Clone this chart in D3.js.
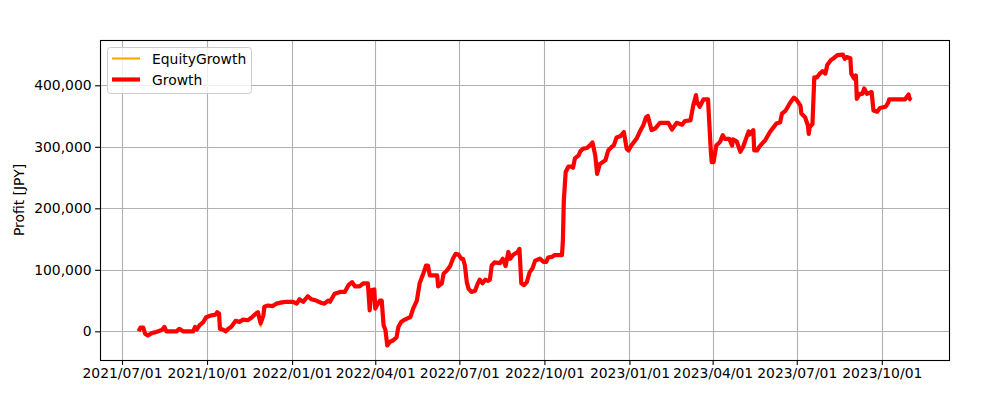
<!DOCTYPE html>
<html>
<head>
<meta charset="utf-8">
<script src="https://cdn.jsdelivr.net/npm/d3@7/dist/d3.min.js"></script>
<style>
  html, body { margin: 0; padding: 0; background: #ffffff; }
  svg { display: block; font-family: "DejaVu Sans", sans-serif; }
</style>
</head>
<body>
<svg id="chart" width="1000" height="400"></svg>
<script>
// ---------------- data ----------------
const dates = ["2021-07-19","2021-07-21","2021-07-24","2021-07-26","2021-07-29","2021-08-02","2021-08-07","2021-08-13","2021-08-16","2021-08-18","2021-08-29","2021-09-01","2021-09-05","2021-09-16","2021-09-18","2021-09-20","2021-09-23","2021-09-27","2021-09-30","2021-10-06","2021-10-10","2021-10-12","2021-10-14","2021-10-15","2021-10-18","2021-10-21","2021-10-24","2021-10-27","2021-11-01","2021-11-05","2021-11-09","2021-11-14","2021-11-18","2021-11-23","2021-11-25","2021-11-28","2021-12-01","2021-12-02","2021-12-06","2021-12-11","2021-12-15","2021-12-21","2021-12-26",
"2022-01-02","2022-01-06","2022-01-09","2022-01-13","2022-01-18","2022-01-22","2022-01-27","2022-02-02","2022-02-05","2022-02-09","2022-02-11","2022-02-16","2022-02-22","2022-02-27","2022-03-03","2022-03-07","2022-03-10","2022-03-15","2022-03-19","2022-03-24","2022-03-26","2022-03-28","2022-03-31","2022-04-01","2022-04-02","2022-04-06","2022-04-08","2022-04-10","2022-04-12","2022-04-14","2022-04-17","2022-04-20","2022-04-24","2022-04-26","2022-04-29","2022-05-03","2022-05-07","2022-05-09","2022-05-12","2022-05-16","2022-05-19","2022-05-23","2022-05-26","2022-05-28","2022-05-30","2022-06-05","2022-06-07","2022-06-08","2022-06-12","2022-06-14","2022-06-17","2022-06-21","2022-06-24","2022-06-27","2022-06-30","2022-07-03","2022-07-05","2022-07-07","2022-07-09","2022-07-11","2022-07-14","2022-07-18","2022-07-21","2022-07-23","2022-07-26","2022-07-29","2022-08-01","2022-08-03","2022-08-05","2022-08-08","2022-08-14","2022-08-17","2022-08-20","2022-08-23","2022-08-25","2022-08-28","2022-09-02","2022-09-04","2022-09-06","2022-09-09","2022-09-12","2022-09-15","2022-09-18","2022-09-21","2022-09-26","2022-09-30","2022-10-03","2022-10-05","2022-10-09","2022-10-12","2022-10-20","2022-10-21","2022-10-22","2022-10-24","2022-10-27","2022-10-30","2022-11-01","2022-11-03","2022-11-07","2022-11-09","2022-11-12","2022-11-16","2022-11-19","2022-11-22","2022-11-25","2022-11-27","2022-11-30","2022-12-06","2022-12-09","2022-12-13","2022-12-15","2022-12-18","2022-12-22","2022-12-26","2022-12-29","2022-12-31",
"2023-01-03","2023-01-09","2023-01-12","2023-01-16","2023-01-19","2023-01-21","2023-01-23","2023-01-25","2023-01-29","2023-02-03","2023-02-12","2023-02-16","2023-02-21","2023-02-27","2023-03-02","2023-03-08","2023-03-11","2023-03-14","2023-03-15","2023-03-18","2023-03-22","2023-03-27","2023-03-30","2023-03-31","2023-04-02","2023-04-05","2023-04-09","2023-04-12","2023-04-14","2023-04-19","2023-04-22","2023-04-23","2023-04-27","2023-05-01","2023-05-04","2023-05-08","2023-05-10","2023-05-11","2023-05-15","2023-05-16","2023-05-19","2023-05-22","2023-05-28","2023-06-02","2023-06-06","2023-06-09","2023-06-13","2023-06-15","2023-06-19","2023-06-24","2023-06-28","2023-07-01","2023-07-05","2023-07-06","2023-07-10","2023-07-13","2023-07-14","2023-07-15","2023-07-18","2023-07-20","2023-07-23","2023-07-26","2023-07-29","2023-08-01","2023-08-03","2023-08-07","2023-08-10","2023-08-14","2023-08-20","2023-08-22","2023-08-24","2023-08-28","2023-08-29","2023-09-01","2023-09-03","2023-09-04","2023-09-07","2023-09-10","2023-09-12","2023-09-15","2023-09-20","2023-09-22","2023-09-26","2023-09-29","2023-10-05","2023-10-08","2023-10-09","2023-10-26","2023-10-30","2023-10-31","2023-11-02"];

const growth = [0,6000,6000,-4000,-7000,-3000,-1000,2000,7000,0,0,4000,0,0,7000,3000,10000,15000,23000,26000,27000,31000,29000,4000,3000,0,4000,7000,17000,15000,19000,18000,22000,29000,31000,13000,26000,40000,42000,41000,45000,47000,48000,
48000,45000,52000,48000,57000,52000,50000,46000,45000,50000,48000,61000,64000,64000,75000,80000,73000,73000,78000,78000,34000,67000,68000,37000,40000,50000,50000,10000,2000,-23000,-17000,-15000,-10000,7000,15000,19000,22000,23000,37000,50000,78000,94000,107000,107000,91000,91000,91000,73000,78000,94000,98000,106000,118000,126000,125000,118000,118000,107000,80000,69000,64000,66000,78000,84000,78000,84000,82000,84000,107000,112000,111000,118000,106000,129000,118000,124000,129000,134000,78000,75000,80000,96000,102000,115000,118000,113000,113000,120000,121000,124000,124000,148000,213000,259000,268000,268000,266000,281000,286000,293000,297000,298000,302000,307000,286000,256000,272000,278000,294000,300000,302000,315000,317000,324000,297000,294000,
302000,314000,324000,335000,348000,350000,338000,327000,330000,339000,339000,328000,339000,336000,342000,343000,367000,384000,373000,365000,377000,377000,294000,275000,275000,302000,308000,319000,313000,313000,302000,312000,309000,292000,300000,317000,325000,320000,327000,294000,294000,301000,311000,324000,332000,338000,340000,354000,359000,372000,380000,376000,367000,354000,348000,335000,321000,332000,337000,413000,413000,419000,423000,419000,433000,441000,444000,449000,450000,443000,446000,444000,419000,411000,416000,378000,386000,386000,395000,386000,389000,359000,357000,363000,365000,372000,377000,377000,385000,378000,376000];

const equity = [0,6000,6000,-4000,-7000,-3000,-1000,2000,7000,0,0,4000,0,0,7000,3000,10000,15000,23000,26000,27000,31000,29000,4000,3000,0,4000,7000,17000,15000,19000,18000,22000,29000,31000,8000,26000,40000,42000,41000,45000,47000,48000,
48000,45000,52000,48000,57000,52000,50000,46000,45000,50000,48000,61000,64000,64000,75000,80000,73000,73000,78000,78000,34000,67000,68000,37000,40000,50000,50000,10000,2000,-23000,-17000,-15000,-10000,7000,15000,19000,22000,23000,37000,50000,78000,94000,107000,107000,91000,91000,91000,73000,78000,94000,98000,106000,118000,126000,125000,118000,118000,107000,80000,69000,64000,66000,78000,84000,78000,84000,82000,84000,107000,112000,111000,118000,106000,129000,118000,124000,129000,134000,78000,75000,80000,96000,102000,115000,118000,113000,113000,120000,121000,124000,124000,148000,213000,259000,268000,266000,266000,281000,286000,293000,297000,298000,302000,307000,286000,256000,272000,278000,294000,300000,302000,315000,317000,324000,297000,294000,
302000,314000,324000,335000,348000,350000,338000,327000,330000,339000,339000,328000,339000,336000,342000,343000,367000,384000,373000,365000,377000,377000,294000,275000,275000,302000,308000,319000,313000,313000,302000,312000,309000,292000,300000,317000,325000,320000,327000,294000,294000,301000,311000,324000,332000,338000,340000,354000,359000,372000,380000,376000,367000,354000,348000,335000,321000,332000,337000,413000,413000,419000,423000,419000,433000,441000,444000,449000,450000,443000,446000,444000,419000,411000,416000,378000,386000,386000,395000,386000,389000,359000,357000,363000,365000,372000,377000,377000,385000,378000,376000];

const xTickLabels = ["2021/07/01","2021/10/01","2022/01/01","2022/04/01","2022/07/01","2022/10/01","2023/01/01","2023/04/01","2023/07/01","2023/10/01"];
const yTickValues = [0, 100000, 200000, 300000, 400000];
const seriesNames = ["EquityGrowth", "Growth"];
const seriesColors = ["#ffa500", "#ff0000"];
const yLabel = "Profit [JPY]";

// ---------------- layout ----------------
const svg = d3.select("#chart");
const L = 100, R = 950, T = 40, B = 360;
const FS = 13.9;
const parse = d3.timeParse("%Y-%m-%d");
const parseTick = d3.timeParse("%Y/%m/%d");
const xs = dates.map(parse);

// matplotlib-like 5% margins
const xExt = d3.extent(xs);
const xSpan = xExt[1] - xExt[0];
const x = d3.scaleTime()
  .domain([new Date(+xExt[0] - 0.05 * xSpan), new Date(+xExt[1] + 0.05 * xSpan)])
  .range([L, R]);
const allY = growth.concat(equity);
const yMin = d3.min(allY), yMax = d3.max(allY);
const ySpan = yMax - yMin;
const y = d3.scaleLinear()
  .domain([yMin - 0.05 * ySpan, yMax + 0.05 * ySpan])
  .range([B, T]);

// grid
const gGrid = svg.append("g");
xTickLabels.forEach(t => {
  const px = Math.round(x(parseTick(t))) + 0.5;
  gGrid.append("line").attr("x1", px).attr("x2", px).attr("y1", T).attr("y2", B)
    .attr("stroke", "#b0b0b0").attr("stroke-width", 1.1);
});
yTickValues.forEach(v => {
  const py = Math.round(y(v)) + 0.5;
  gGrid.append("line").attr("x1", L).attr("x2", R).attr("y1", py).attr("y2", py)
    .attr("stroke", "#b0b0b0").attr("stroke-width", 1.1);
});

// lines
const clip = svg.append("clipPath").attr("id", "clip").append("rect")
  .attr("x", L).attr("y", T).attr("width", R - L).attr("height", B - T);

const lineGen = vals => d3.line()
  .x((d, i) => x(xs[i]))
  .y((d) => y(d))(vals);

svg.append("path").attr("d", lineGen(equity))
  .attr("fill", "none").attr("stroke", seriesColors[0]).attr("stroke-width", 2.1)
  .attr("stroke-linejoin", "round").attr("clip-path", "url(#clip)");
svg.append("path").attr("d", lineGen(growth))
  .attr("fill", "none").attr("stroke", seriesColors[1]).attr("stroke-width", 4.2)
  .attr("stroke-linejoin", "round").attr("clip-path", "url(#clip)");

// axes
const xAxis = d3.axisBottom(x)
  .tickValues(xTickLabels.map(parseTick))
  .tickFormat(d3.timeFormat("%Y/%m/%d"))
  .tickSize(4.9).tickPadding(3.5);
const gx = svg.append("g").attr("transform", `translate(0,${B})`).call(xAxis);
const yAxis = d3.axisLeft(y)
  .tickValues(yTickValues)
  .tickFormat(d3.format(","))
  .tickSize(4.9).tickPadding(3.5);
const gy = svg.append("g").attr("transform", `translate(${L},0)`).call(yAxis);
[gx, gy].forEach(g => {
  g.select(".domain").remove();
  g.selectAll(".tick line").attr("stroke", "#000").attr("stroke-width", 1.1);
  g.selectAll(".tick text").attr("fill", "#000")
    .style("font-family", "'DejaVu Sans', sans-serif").style("font-size", FS + "px");
});

// frame
svg.append("rect").attr("x", L + 0.5).attr("y", T + 0.5).attr("width", R - L - 1).attr("height", B - T)
  .attr("fill", "none").attr("stroke", "#000").attr("stroke-width", 1.1);

// y label
svg.append("text")
  .attr("transform", `translate(24,${(T + B) / 2}) rotate(-90)`)
  .attr("text-anchor", "middle")
  .style("font-size", FS + "px").attr("fill", "#000")
  .text(yLabel);

// legend
const lg = svg.append("g");
lg.append("rect").attr("x", 107.5).attr("y", 47.5).attr("width", 144).attr("height", 46)
  .attr("rx", 3).attr("fill", "#fff").attr("fill-opacity", 0.8)
  .attr("stroke", "#cccccc").attr("stroke-width", 1);
const lgY = [58.5, 79.5];
const lgW = [2.1, 4.2];
seriesNames.forEach((n, i) => {
  lg.append("line").attr("x1", 112).attr("x2", 140).attr("y1", lgY[i]).attr("y2", lgY[i])
    .attr("stroke", seriesColors[i]).attr("stroke-width", lgW[i]);
  lg.append("text").attr("x", 152).attr("y", lgY[i]).attr("dy", "0.36em")
    .style("font-size", FS + "px").attr("fill", "#000").text(n);
});
</script>
</body>
</html>
